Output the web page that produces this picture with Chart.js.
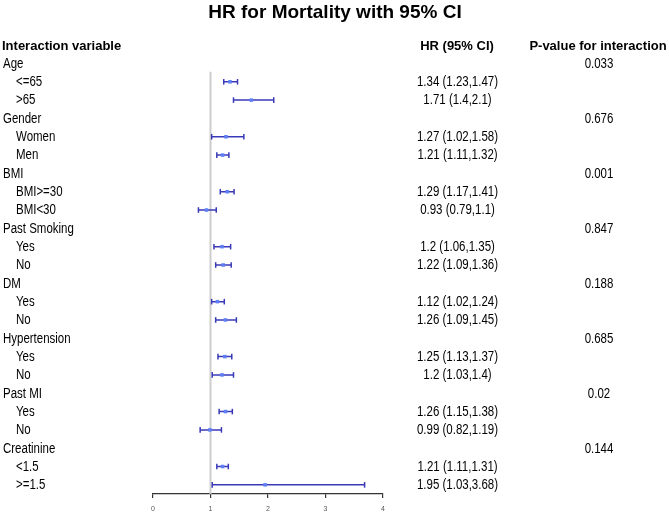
<!DOCTYPE html>
<html>
<head>
<meta charset="utf-8">
<script src="https://cdn.jsdelivr.net/npm/chart.js@4"></script>
<style>
  body { margin: 0; background: #fff; }
  canvas { display: block; }
</style>
</head>
<body>
<canvas id="myChart" width="669" height="513"></canvas>
<script>
// rows from top to bottom, group rows have no estimate
const rowLabels = ["Age", "<=65", ">65", "Gender", "Women", "Men", "BMI", "BMI>=30", "BMI<30",
    "Past Smoking", "Yes", "No", "DM", "Yes", "No", "Hypertension", "Yes", "No",
    "Past MI", "Yes", "No", "Creatinine", "<1.5", ">=1.5"];
const isGroup = [1,0,0, 1,0,0, 1,0,0, 1,0,0, 1,0,0, 1,0,0, 1,0,0, 1,0,0];
const hr =   [null,1.34,1.71, null,1.27,1.21, null,1.29,0.93, null,1.2,1.22, null,1.12,1.26, null,1.25,1.2, null,1.26,0.99, null,1.21,1.95];
const low =  [null,1.23,1.4,  null,1.02,1.11, null,1.17,0.79, null,1.06,1.09, null,1.02,1.09, null,1.13,1.03, null,1.15,0.82, null,1.11,1.03];
const high = [null,1.47,2.1,  null,1.58,1.32, null,1.41,1.1,  null,1.35,1.36, null,1.24,1.45, null,1.37,1.4,  null,1.38,1.19, null,1.31,3.68];
const hrText = ["", "1.34 (1.23,1.47)", "1.71 (1.4,2.1)", "", "1.27 (1.02,1.58)", "1.21 (1.11,1.32)",
    "", "1.29 (1.17,1.41)", "0.93 (0.79,1.1)", "", "1.2 (1.06,1.35)", "1.22 (1.09,1.36)",
    "", "1.12 (1.02,1.24)", "1.26 (1.09,1.45)", "", "1.25 (1.13,1.37)", "1.2 (1.03,1.4)",
    "", "1.26 (1.15,1.38)", "0.99 (0.82,1.19)", "", "1.21 (1.11,1.31)", "1.95 (1.03,3.68)"];
const pValues = ["0.033", "", "", "0.676", "", "", "0.001", "", "", "0.847", "", "",
    "0.188", "", "", "0.685", "", "", "0.02", "", "", "0.144", "", ""];
const xTicks = [0, 1, 2, 3, 4];

const FONT = "'Liberation Sans', Arial, sans-serif";
const navy = "rgb(58,58,185)";

const ciLines = [];
const caps = [];
const points = [];
rowLabels.forEach((lab, i) => {
    if (hr[i] === null) return;
    ciLines.push({ x: low[i], y: i }, { x: high[i], y: i }, { x: null, y: null });
    caps.push({ x: low[i], y: i }, { x: high[i], y: i });
    points.push({ x: hr[i], y: i });
});

// narrow-looking text: squeeze horizontally
function narrowText(ctx, txt, x, y, align) {
    const sx = 0.82;
    const w = ctx.measureText(txt).width * sx;
    let left = x;
    if (align === "center") left = x - w / 2;
    ctx.save();
    ctx.translate(left, y);
    ctx.scale(sx, 1);
    ctx.textAlign = "left";
    ctx.fillText(txt, 0, 0);
    ctx.restore();
}

const textPlugin = {
    id: "forestText",
    afterDraw(chart) {
        const ctx = chart.ctx;
        const y = chart.scales.y;
        ctx.save();
        ctx.fillStyle = "#000";
        ctx.textBaseline = "alphabetic";
        ctx.textAlign = "center";
        ctx.font = "bold 19px " + FONT;
        ctx.fillText("HR for Mortality with 95% CI", 335, 18);

        ctx.font = "bold 13px " + FONT;
        ctx.textAlign = "left";
        ctx.fillText("Interaction variable", 2, 50);
        ctx.textAlign = "center";
        ctx.fillText("HR (95% CI)", 457, 50);
        ctx.fillText("P-value for interaction", 598, 50);

        ctx.font = "14px " + FONT;
        ctx.textBaseline = "middle";
        rowLabels.forEach((lab, i) => {
            const py = y.getPixelForValue(i) + 0.5;
            narrowText(ctx, lab, isGroup[i] ? 3 : 16, py, "left");
            if (hrText[i]) narrowText(ctx, hrText[i], 457.5, py, "center");
            if (pValues[i]) narrowText(ctx, pValues[i], 599, py, "center");
        });
        ctx.restore();
    }
};

const config = {
    type: "scatter",
    data: {
        datasets: [
            {
                data: points,
                pointStyle: "rect",
                pointRadius: 2.5,
                backgroundColor: "rgb(95,128,245)",
                borderWidth: 0,
                order: 1
            },
            {
                data: caps,
                pointStyle: "line",
                rotation: 90,
                pointRadius: 2.8,
                borderColor: navy,
                borderWidth: 1.5,
                order: 2
            },
            {
                data: ciLines,
                showLine: true,
                spanGaps: false,
                pointRadius: 0,
                borderColor: navy,
                borderWidth: 1.5,
                order: 3
            },
            {
                data: [{ x: 1, y: 0.45 }, { x: 1, y: 23.5 }],
                showLine: true,
                pointRadius: 0,
                borderColor: "#cdcdcd",
                borderWidth: 2,
                order: 4
            }
        ]
    },
    options: {
        responsive: false,
        animation: false,
        layout: { padding: { left: 153, right: 286, top: 36, bottom: 0 } },
        plugins: {
            legend: { display: false },
            tooltip: { enabled: false },
            title: { display: false }
        },
        scales: {
            x: {
                type: "linear",
                position: "bottom",
                min: 0,
                max: 4,
                afterBuildTicks: s => { s.ticks = xTicks.map(v => ({ value: v })); },
                afterFit: s => { s.height = 19; },
                grid: { drawOnChartArea: false, drawTicks: true, tickLength: 4, color: "#333", lineWidth: 1.2 },
                border: { display: true, color: "#333", width: 1.2 },
                ticks: { font: { size: 7, family: FONT }, color: "#555", padding: 7 }
            },
            y: {
                type: "linear",
                reverse: true,
                min: -1.5,
                max: 23.5,
                display: false
            }
        }
    },
    plugins: [textPlugin]
};

new Chart(document.getElementById("myChart"), config);
</script>
</body>
</html>
